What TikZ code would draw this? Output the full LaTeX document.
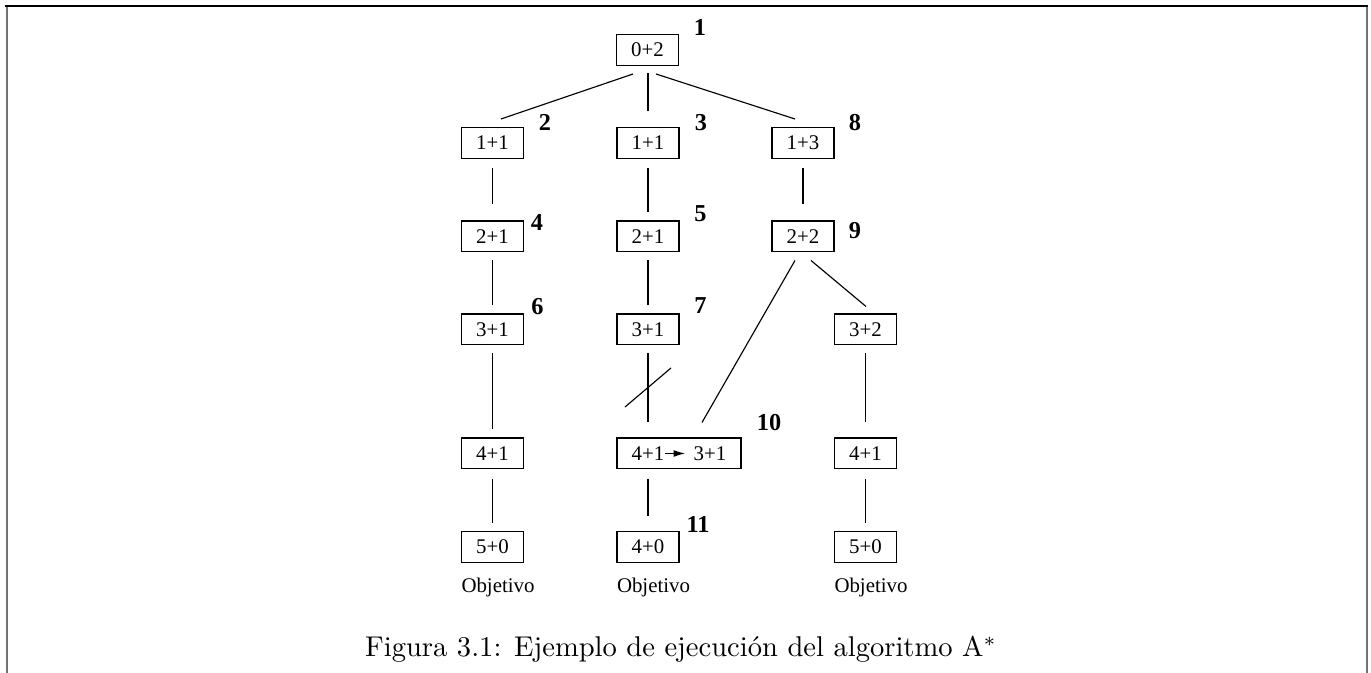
\documentclass[tikz,border=0pt]{standalone}
\usepackage{fontspec}
\newfontfamily\figfont{Liberation Serif}
\usetikzlibrary{calc,arrows.meta}

\begin{document}
\begin{tikzpicture}[x=0.35pt,y=-0.35pt,
  box/.style={draw,line width=0.4pt,minimum width=21.7pt,minimum height=10.8pt,
    inner sep=0pt,font=\figfont\fontsize{7.3}{8}\selectfont},
  txt/.style={inner sep=0pt,font=\figfont\fontsize{7.3}{8}\selectfont},
  num/.style={inner sep=0pt,font=\figfont\bfseries\fontsize{8.5}{10}\selectfont},
  goal/.style={anchor=base west,inner sep=0pt,font=\figfont\fontsize{7.3}{8}\selectfont},
  link/.style={line width=0.4pt}]
\useasboundingbox (0,0) rectangle (1371,673);

% page frame
\draw[black!55,line width=0.7pt] (7,6) -- (7,673) (1367,6) -- (1367,673);
\draw[line width=0.7pt] (5,6) -- (1368,6);

% states
\node[box] (n1) at (647.5,50) {0+2};
\node[box] (n2) at (492.5,143) {1+1};
\node[box] (n3) at (648,143) {1+1};
\node[box] (n8) at (803,143) {1+3};
\node[box] (n4) at (492.5,236.5) {2+1};
\node[box] (n5) at (648,236.5) {2+1};
\node[box] (n9) at (803,236.5) {2+2};
\node[box] (n6) at (492.5,329.5) {3+1};
\node[box] (n7) at (648,329.5) {3+1};
\node[box] (p3) at (865.5,329.5) {3+2};
\node[box] (q4) at (492.5,453.5) {4+1};
\node[box,minimum width=43.4pt] (n10) at (679,453.5) {};
\node[txt] (n10a) at (648,453.5) {4+1};
\node[txt] (n10b) at (710,453.5) {3+1};
\node[box] (p4) at (865.5,453.5) {4+1};
\node[box] (q5) at (492.5,547) {5+0};
\node[box] (n11) at (648,547) {4+0};
\node[box] (p5) at (865.5,547) {5+0};

% expansion order
\node[num] (l1) at (700,27.5) {1};
\node[num] (l2) at (545,122.5) {2};
\node[num] (l3) at (701,122.5) {3};
\node[num] (l8) at (855,122.5) {8};
\node[num] (l4) at (537,223) {4};
\node[num] (l5) at (700.5,214) {5};
\node[num] (l9) at (855,231) {9};
\node[num] (l6) at (537.5,307) {6};
\node[num] (l7) at (700.5,305.5) {7};
\node[num] (l10) at (769,422.5) {10};
\node[num] (l11) at (698,524.5) {11};

\node[goal] (g1) at ($(q5.south west)+(0,30)$) {Objetivo};
\node[goal] (g2) at ($(n11.south west)+(0,30)$) {Objetivo};
\node[goal] (g3) at ($(p5.south west)+(0,30)$) {Objetivo};

% tree
\draw[link] ($(n1.south)+(-14.5,8)$) -- ($(n2.north)+(8.5,-8)$);
\draw[link] ($(n1.south)+(0.5,7)$) -- ($(n3.north)+(0,-16)$);
\draw[link] ($(n1.south)+(8.5,8)$) -- ($(n8.north)+(-8,-8)$);
\draw[link,shorten <=3.2pt,shorten >=5.6pt] (n2) -- (n4);
\draw[link,shorten <=3.2pt,shorten >=2.8pt] (n3) -- (n5);
\draw[link,shorten <=3.2pt,shorten >=5.6pt] (n8) -- (n9);
\draw[link,shorten <=2.8pt,shorten >=2.8pt] (n4) -- (n6);
\draw[link,shorten <=2.8pt,shorten >=2.8pt] (n5) -- (n7);
\draw[link] ($(n9.south)+(-8,8)$) -- ($(n10.north)+(23,-15)$);
\draw[link] ($(n9.south)+(8,8)$) -- ($(p3.north)+(0.5,-7)$);
\draw[link,shorten <=2.8pt,shorten >=2.8pt] (n6) -- (q4);
\draw[link,shorten <=2.8pt,shorten >=5.25pt] (n7) -- coordinate[pos=.5] (cut) (n10a |- n10.north);
\draw[link] ($(cut)+(-23,15.5)$) -- ($(cut)+(23,-23.5)$);
\draw[link,shorten <=2.8pt,shorten >=5.25pt] (p3) -- (p4);
\draw[link,shorten <=3.2pt,shorten >=2.8pt] (q4) -- (q5);
\draw[link,shorten <=3.2pt,shorten >=5.25pt] (n10a |- n10.south) -- (n11);
\draw[link,shorten <=3.2pt,shorten >=2.8pt] (p4) -- (p5);
\draw[link,-{Latex[length=4pt,width=2.4pt]},shorten >=2.8pt] (n10a) -- (n10b);

\node[anchor=base,font=\fontsize{10}{12}\selectfont] (cap) at (681,657)
  {Figura 3.1: Ejemplo de ejecución del algoritmo A$^*$};
\end{tikzpicture}
\end{document}
